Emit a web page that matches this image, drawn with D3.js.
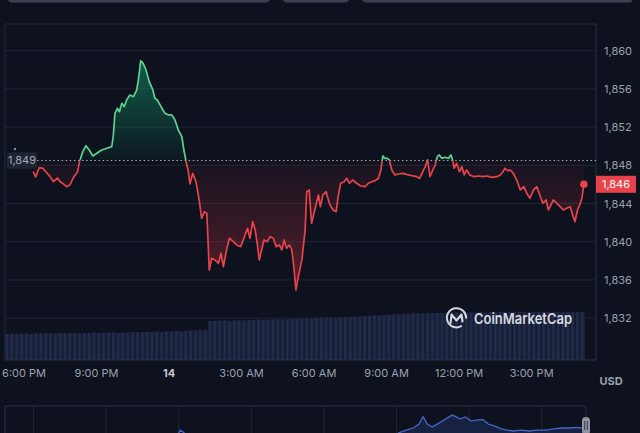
<!DOCTYPE html>
<html><head><meta charset="utf-8">
<script src="https://cdn.jsdelivr.net/npm/d3@7"></script>
<style>
html,body{margin:0;padding:0;background:#0d121e;}
svg{display:block;font-family:Inter,"Noto Sans",sans-serif;}
</style></head><body>
<svg id="chart" width="640" height="433"></svg>
<script>
// ---------- DATA ----------
const baseTime = new Date(2023, 7, 13, 18, 0); // minutes below are offsets from 6:00 PM
const priceMinutes = [24,30,39,48,58,66,74,84,91,99,107,115,125,134,139,147,155,163,172,182,
194,207,219,223,227,233,238,244,250,256,264,273,281,285,291,297,304,312,321,326,
332,339,346,351,360,368,376,384,393,398,403,409,413,420,428,436,442,449,455,461,
467,475,484,490,496,504,511,521,529,539,547,556,562,569,575,580,585,591,597,605,
612,620,627,635,641,647,653,660,666,671,676,682,691,699,703,709,715,724,732,737,
743,751,759,768,776,781,787,796,802,809,817,827,837,848,856,864,873,881,887,892,
897,903,908,914,922,930,943,955,968,976,983,989,997,1003,1009,1016,1022,1027,1032,1038,
1046,1055,1061,1065,1069,1075,1082,1088,1094,1100,1108,1118,1129,1140,1150,1162,1175,1183,1190,1195,
1201,1208,1216,1224,1233,1242,1249,1257,1266,1274,1280,1289,1297,1303,1309,1315,1324,1332,1340,1348,
1357,1363,1369,1375,1382,1386,1391];
const priceValues = [1847.33,1846.78,1847.75,1847.69,1847.20,1846.81,1846.28,1846.67,1846.28,1846.04,
1845.76,1845.94,1846.81,1847.33,1848.38,1849.43,1850.05,1849.60,1848.98,1849.26,
1849.60,1849.78,1849.95,1851.17,1853.45,1853.97,1853.61,1854.49,1854.14,1854.84,
1855.36,1855.18,1855.89,1856.93,1858.95,1858.68,1857.98,1856.76,1855.89,1855.02,
1854.84,1854.32,1853.79,1853.45,1853.27,1853.27,1852.74,1851.70,1851.00,1849.60,
1848.48,1847.40,1846.04,1847.16,1846.28,1844.37,1842.45,1843.14,1842.98,1837.04,
1838.26,1838.09,1837.74,1838.79,1837.38,1839.13,1840.36,1840.00,1839.66,1839.48,
1840.36,1841.40,1840.36,1842.10,1841.23,1839.83,1838.09,1839.13,1840.18,1840.00,
1840.52,1840.36,1839.48,1839.66,1839.13,1840.18,1839.31,1839.66,1839.13,1837.38,
1834.94,1836.34,1838.09,1841.23,1845.21,1845.42,1841.93,1843.53,1844.89,1843.67,
1844.89,1845.24,1844.02,1843.32,1843.14,1844.71,1846.12,1846.28,1846.64,1846.12,
1846.46,1846.12,1845.83,1845.76,1846.12,1846.28,1846.39,1846.64,1847.51,1848.98,
1848.73,1848.73,1848.56,1847.51,1846.99,1847.09,1847.16,1846.99,1846.88,1846.81,
1846.64,1847.16,1847.85,1848.56,1846.81,1847.51,1848.03,1848.90,1849.08,1848.73,
1848.84,1848.73,1849.08,1848.56,1847.69,1848.21,1847.33,1847.85,1846.99,1847.51,
1846.99,1846.81,1846.88,1846.81,1846.88,1846.74,1846.81,1846.99,1847.33,1847.69,
1847.44,1847.51,1847.16,1846.46,1845.42,1845.76,1845.07,1844.55,1845.42,1845.76,
1845.07,1844.02,1844.37,1843.32,1843.84,1844.37,1844.02,1843.67,1843.32,1843.50,
1843.67,1842.80,1842.10,1843.32,1844.02,1844.55,1846.01];
const baselineValue = 1848.5;
const baselineLabel = "1,849";
const currentLabel = "1,846";
const yTicks = [1832, 1836, 1840, 1844, 1848, 1852, 1856, 1860];
const domainStartMinute = -46, domainEndMinute = 1421;
const volumeStartMinute = -46, volumeStepMinutes = 12;
const volumeValues = [5.2,5.3,5.2,5.3,5.3,5.2,5.3,5.3,5.4,5.3,
5.3,5.4,5.3,5.4,5.4,5.3,5.4,5.4,5.5,5.4,
5.4,5.5,5.5,5.4,5.5,5.5,5.6,5.5,5.6,5.6,
5.6,5.7,5.6,5.7,5.7,5.8,5.7,5.8,5.9,5.9,
6.0,6.0,
7.8,7.8,7.9,7.9,7.8,7.9,8.0,7.9,8.0,8.0,
8.1,8.0,8.1,8.1,8.2,8.1,8.2,8.2,8.3,8.2,
8.3,8.3,8.4,8.4,8.5,8.4,8.5,8.5,8.6,8.6,
8.7,8.7,8.8,8.8,8.9,8.9,9.0,9.0,9.1,9.1,
9.2,9.2,9.3,9.3,9.3,9.4,9.4,9.4,9.4,9.5,
9.5,9.5,9.5,9.5,9.5,9.5,9.6,9.5,9.6,9.6,
9.6,9.6,9.6,9.6,9.6,9.6,9.6,9.6,9.6,9.6,
9.6,9.6,9.6,9.6,9.6,9.6,9.6,9.6];
const navHours = [5.99,6.07,6.24,15.06,15.40,15.69,15.93,16.10,16.27,16.47,16.68,16.89,17.09,17.30,17.47,17.63,
17.84,18.09,18.34,18.58,18.79,19.04,19.33,19.58,19.83,20.16,20.49,20.82,21.20,21.49,21.82,22.15,22.44,22.65];
const navValues = [2.3,3.3,2.3,2.3,3.3,4.0,5.3,7.8,5.3,4.3,5.3,6.3,7.3,8.3,7.7,7.0,
7.7,6.3,6.7,6.8,5.3,4.7,3.7,3.3,3.0,3.3,3.0,3.3,3.3,3.7,4.0,4.0,4.2,4.0];
const navGridHours = [0, 3, 6, 9, 12, 15, 18, 21];
const axisUnit = "USD";
const brandText = "CoinMarketCap";

// ---------- DRAW ----------
const svg = d3.select("#chart");
const W = 640, H = 433;
const L = 5, R = 596, T = 24, B = 360;
const addMin = m => new Date(baseTime.getTime() + m * 60000);
const price = priceMinutes.map((m, i) => ({t: addMin(m), v: priceValues[i]}));
const green = "#5fcf90", red = "#e8434c";

const x = d3.scaleTime().domain([addMin(domainStartMinute), addMin(domainEndMinute)]).range([L, R]);
const y = d3.scaleLinear().domain([1832, 1860]).range([318.1, 50.7]);
const yb = y(baselineValue);

svg.append("rect").attr("width", W).attr("height", H).attr("fill", "#0d121e");

// top cut-off tabs
[[8, 262], [283, 66], [362, 271]].forEach(([tx, tw]) =>
  svg.append("rect").attr("x", tx).attr("y", -10).attr("width", tw).attr("height", 12.5)
    .attr("rx", 4).attr("fill", "#3a4050"));

const defs = svg.append("defs");
const gg = defs.append("linearGradient").attr("id", "gGrad").attr("gradientUnits", "userSpaceOnUse")
  .attr("x1", 0).attr("x2", 0).attr("y1", y(1859)).attr("y2", yb);
gg.append("stop").attr("offset", 0).attr("stop-color", "#16c784").attr("stop-opacity", 0.42);
gg.append("stop").attr("offset", 1).attr("stop-color", "#16c784").attr("stop-opacity", 0.03);
const rg = defs.append("linearGradient").attr("id", "rGrad").attr("gradientUnits", "userSpaceOnUse")
  .attr("x1", 0).attr("x2", 0).attr("y1", yb).attr("y2", y(1835));
rg.append("stop").attr("offset", 0).attr("stop-color", "#ea3943").attr("stop-opacity", 0.04);
rg.append("stop").attr("offset", 1).attr("stop-color", "#ea3943").attr("stop-opacity", 0.32);
defs.append("clipPath").attr("id", "cAbove").append("rect")
  .attr("x", L).attr("y", 0).attr("width", R - L).attr("height", yb);
defs.append("clipPath").attr("id", "cBelow").append("rect")
  .attr("x", L).attr("y", yb).attr("width", R - L).attr("height", B - yb);

// frame
svg.append("line").attr("x1", L).attr("x2", R).attr("y1", T).attr("y2", T).attr("stroke", "#232a3a");
svg.append("line").attr("x1", L).attr("x2", L).attr("y1", T).attr("y2", B).attr("stroke", "#232a3a");
svg.append("line").attr("x1", R).attr("x2", R).attr("y1", T).attr("y2", B).attr("stroke", "#2a3142");

// gridlines
svg.append("g").selectAll("line").data(yTicks).join("line")
  .attr("x1", L).attr("x2", R).attr("y1", d => y(d)).attr("y2", d => y(d))
  .attr("stroke", "#1f2636").attr("stroke-width", 1);

// volume
const vol = volumeValues.map((v, i) => ({t: addMin(volumeStartMinute + i * volumeStepMinutes), v}));
const yv = d3.scaleLinear().domain([0, 12]).range([B, 300]);
const step = x(addMin(volumeStepMinutes)) - x(addMin(0));
svg.append("g").selectAll("rect").data(vol).join("rect")
  .attr("x", d => x(d.t)).attr("width", step).attr("y", d => yv(d.v)).attr("height", d => B - yv(d.v))
  .attr("fill", "#182038");
svg.append("g").selectAll("rect").data(vol).join("rect")
  .attr("x", d => x(d.t) + 0.6).attr("width", step - 2.2).attr("y", d => yv(d.v)).attr("height", d => B - yv(d.v))
  .attr("fill", "#222b48");

// areas
const area = d3.area().x(d => x(d.t)).y0(yb).y1(d => y(d.v));
svg.append("path").datum(price).attr("d", area).attr("fill", "url(#gGrad)").attr("clip-path", "url(#cAbove)");
svg.append("path").datum(price).attr("d", area).attr("fill", "url(#rGrad)").attr("clip-path", "url(#cBelow)");

// baseline dotted
svg.append("line").attr("x1", 37).attr("x2", R).attr("y1", yb).attr("y2", yb)
  .attr("stroke", "#c4c8d0").attr("stroke-width", 1).attr("stroke-dasharray", "1.5,2.6").attr("opacity", 0.85);

// lines
const line = d3.line().x(d => x(d.t)).y(d => y(d.v));
svg.append("path").datum(price).attr("d", line).attr("fill", "none").attr("stroke", green)
  .attr("stroke-width", 1.7).attr("stroke-linejoin", "round").attr("clip-path", "url(#cAbove)");
svg.append("path").datum(price).attr("d", line).attr("fill", "none").attr("stroke", red)
  .attr("stroke-width", 1.7).attr("stroke-linejoin", "round").attr("clip-path", "url(#cBelow)");

const last = price[price.length - 1];
svg.append("circle").attr("cx", x(last.t)).attr("cy", y(last.v)).attr("r", 3.8).attr("fill", red);

// x axis line
svg.append("line").attr("x1", L).attr("x2", R).attr("y1", B).attr("y2", B).attr("stroke", "#2a3142");

// x axis
const xTicks = x.ticks(d3.timeHour.every(3));
const fmtTime = d3.timeFormat("%-I:%M %p"), fmtDay = d3.timeFormat("%-d");
const xa = svg.append("g").attr("transform", `translate(0,${B})`)
  .call(d3.axisBottom(x).tickValues(xTicks).tickSize(0).tickPadding(9)
    .tickFormat(d => d.getHours() === 0 ? fmtDay(d) : fmtTime(d)));
xa.select(".domain").remove();
xa.selectAll("text").attr("fill", d => d.getHours() === 0 ? "#c3c8d3" : "#9aa0ad")
  .attr("font-weight", d => d.getHours() === 0 ? 700 : 400)
  .attr("font-size", 11).attr("font-family", "Inter,'Noto Sans',sans-serif");

// y axis
const ya = svg.append("g").attr("transform", `translate(${R},0)`)
  .call(d3.axisRight(y).tickValues(yTicks).tickSize(0).tickPadding(8).tickFormat(d3.format(",")));
ya.select(".domain").remove();
ya.selectAll("text").attr("fill", "#9aa0ad").attr("font-size", 11)
  .attr("font-family", "Inter,'Noto Sans',sans-serif");

// current price tag
svg.append("rect").attr("x", R).attr("y", y(last.v) - 8.5).attr("width", 40).attr("height", 17).attr("fill", red);
svg.append("text").attr("x", R + 20).attr("y", y(last.v)).attr("dy", "0.35em").attr("text-anchor", "middle")
  .attr("fill", "#fff").attr("font-size", 11).text(currentLabel);

// baseline tag
svg.append("rect").attr("x", 7).attr("y", yb - 8.3).attr("width", 30).attr("height", 16.6).attr("rx", 3)
  .attr("fill", "#1e2432");
svg.append("text").attr("x", 22).attr("y", yb).attr("dy", "0.35em").attr("text-anchor", "middle")
  .attr("fill", "#a3a9b6").attr("font-size", 11).text(baselineLabel);
svg.append("circle").attr("cx", 15).attr("cy", yb - 11.5).attr("r", 1.2).attr("fill", "#8a90a0");

// unit
svg.append("text").attr("x", 611).attr("y", 381).attr("dy", "0.35em").attr("text-anchor", "middle")
  .attr("fill", "#9aa0ad").attr("font-size", 11).attr("font-weight", 700).text(axisUnit);

// watermark
const wm = svg.append("g").attr("opacity", 0.92);
wm.append("path").attr("d", d3.arc()({innerRadius: 8.6, outerRadius: 10.6, startAngle: 2.55, endAngle: 2.55 + 2 * Math.PI - 0.9}))
  .attr("transform", "translate(456.5,317.8)").attr("fill", "#e6e8ee");
wm.append("path").attr("d", "M450.5,323 L451.5,314.5 L456.5,320.5 L461.5,314.5 L462.5,321.5")
  .attr("fill", "none").attr("stroke", "#e6e8ee").attr("stroke-width", 2.1).attr("stroke-linejoin", "round").attr("stroke-linecap", "round");
wm.append("text").attr("x", 474).attr("y", 324).attr("fill", "#e6e8ee").attr("font-size", 15)
  .attr("font-weight", 600).attr("textLength", 98).attr("lengthAdjust", "spacingAndGlyphs").text(brandText);

// navigator
const NT = 406, NR = 586;
const nx = d3.scaleLinear().domain([-1.18, 22.83]).range([L, NR]);
const ny = d3.scaleLinear().domain([0, 10]).range([440, 410]);
svg.append("g").selectAll("line").data(navGridHours).join("line")
  .attr("x1", d => nx(d)).attr("x2", d => nx(d)).attr("y1", NT).attr("y2", H)
  .attr("stroke", "#1f2636");
const nav = navHours.map((h, i) => ({h, v: navValues[i]}));
const navMain = nav.slice(3);
svg.append("path").datum(navMain)
  .attr("d", d3.area().x(d => nx(d.h)).y0(H + 5).y1(d => ny(d.v))).attr("fill", "#172141");
svg.append("path").datum(navMain).attr("d", d3.line().x(d => nx(d.h)).y(d => ny(d.v)))
  .attr("fill", "none").attr("stroke", "#4565c4").attr("stroke-width", 1.3);
svg.append("path").datum(nav.slice(0, 3)).attr("d", d3.line().x(d => nx(d.h)).y(d => ny(d.v)))
  .attr("fill", "none").attr("stroke", "#4565c4").attr("stroke-width", 1.3);
svg.append("line").attr("x1", L).attr("x2", NR).attr("y1", NT).attr("y2", NT).attr("stroke", "#2a3142");
svg.append("line").attr("x1", L).attr("x2", L).attr("y1", NT).attr("y2", H).attr("stroke", "#2a3142");
svg.append("line").attr("x1", NR).attr("x2", NR).attr("y1", NT).attr("y2", H).attr("stroke", "#2a3142");
svg.append("rect").attr("x", NR - 4).attr("y", 417).attr("width", 8).attr("height", 18).attr("rx", 4).attr("fill", "#8d93a2");
[NR - 1.3, NR + 1.3].forEach(px => svg.append("line").attr("x1", px).attr("x2", px).attr("y1", 421).attr("y2", 430)
  .attr("stroke", "#2a2f3c").attr("stroke-width", 0.9));
</script>
</body></html>
